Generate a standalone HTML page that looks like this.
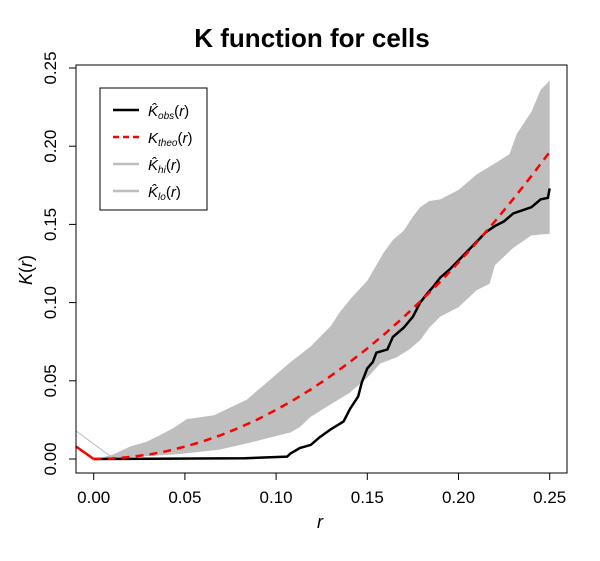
<!DOCTYPE html>
<html><head><meta charset="utf-8"><style>
body{margin:0;background:#fff;}
svg text{font-family:"Liberation Sans",Arial,sans-serif;}
</style></head><body>
<svg width="600" height="556" xmlns="http://www.w3.org/2000/svg">
<text x="312" y="47" text-anchor="middle" font-size="26" font-weight="bold">K function for cells</text>
<g id="plot"></g>
<rect x="76" y="65" width="491" height="408" fill="none" stroke="#000" stroke-width="1"/>
<g id="axes"></g>
<text x="320" y="528" text-anchor="middle" font-size="18" font-style="italic">r</text>
<text transform="translate(32,270) rotate(-90)" text-anchor="middle" font-size="18"><tspan font-style="italic">K</tspan>(<tspan font-style="italic">r</tspan>)</text>
<g>
<rect x="100" y="88" width="107" height="122" fill="#fff" stroke="#000"/>
<line x1="113" y1="110" x2="139" y2="110" stroke="#000" stroke-width="2.5"/>
<text x="148" y="116" font-size="15" font-style="italic">K̂<tspan font-size="10" dy="3">obs</tspan><tspan dy="-3" font-style="normal">(</tspan>r<tspan font-style="normal">)</tspan></text>
<line x1="113" y1="137" x2="139" y2="137" stroke="#f00" stroke-width="2.5" stroke-dasharray="6,4"/>
<text x="148" y="143" font-size="15" font-style="italic">K<tspan font-size="10" dy="3">theo</tspan><tspan dy="-3" font-style="normal">(</tspan>r<tspan font-style="normal">)</tspan></text>
<line x1="113" y1="164" x2="139" y2="164" stroke="#bebebe" stroke-width="2.5"/>
<text x="148" y="170" font-size="15" font-style="italic">K̂<tspan font-size="10" dy="3">hi</tspan><tspan dy="-3" font-style="normal">(</tspan>r<tspan font-style="normal">)</tspan></text>
<line x1="113" y1="191" x2="139" y2="191" stroke="#bebebe" stroke-width="2.5"/>
<text x="148" y="197" font-size="15" font-style="italic">K̂<tspan font-size="10" dy="3">lo</tspan><tspan dy="-3" font-style="normal">(</tspan>r<tspan font-style="normal">)</tspan></text>
</g>
</svg>
<script>
const hiR=[0,0.005,0.011,0.02,0.029,0.036,0.044,0.051,0.066,0.075,0.084,0.091,0.108,0.119,0.13,0.135,0.142,0.15,0.153,0.159,0.164,0.17,0.175,0.179,0.184,0.19,0.20,0.21,0.22,0.228,0.232,0.24,0.245,0.25];
const hiVals=[0,0.001,0.003,0.008,0.011,0.015,0.02,0.0255,0.028,0.033,0.038,0.045,0.062,0.072,0.085,0.094,0.104,0.114,0.12,0.132,0.14,0.146,0.155,0.161,0.165,0.166,0.172,0.182,0.189,0.195,0.208,0.222,0.236,0.242];
const loR=[0,0.018,0.046,0.069,0.084,0.108,0.113,0.119,0.13,0.14,0.15,0.157,0.166,0.173,0.179,0.184,0.19,0.20,0.21,0.217,0.22,0.23,0.24,0.25];
const loVals=[0,0.001,0.003,0.006,0.010,0.017,0.0205,0.027,0.035,0.042,0.052,0.061,0.065,0.07,0.076,0.084,0.091,0.097,0.108,0.112,0.124,0.135,0.143,0.144];
const theoR=[0,0.01,0.02,0.03,0.04,0.05,0.06,0.07,0.08,0.09,0.10,0.11,0.12,0.13,0.14,0.15,0.16,0.17,0.18,0.19,0.20,0.21,0.22,0.23,0.24,0.25];
const theoVals=[0,0.0003,0.0013,0.0028,0.005,0.0079,0.0113,0.0154,0.0201,0.0254,0.0314,0.038,0.0452,0.0531,0.0616,0.0707,0.0804,0.0908,0.1018,0.1134,0.1257,0.1385,0.152,0.1662,0.181,0.1963];
const obsR=[0,0.083,0.106,0.108,0.113,0.119,0.124,0.13,0.137,0.1405,0.145,0.147,0.15,0.153,0.155,0.161,0.164,0.17,0.175,0.179,0.183,0.186,0.19,0.195,0.2,0.205,0.21,0.215,0.22,0.225,0.23,0.235,0.24,0.245,0.249,0.25];
const obsVals=[0,0.0005,0.0015,0.0036,0.007,0.009,0.014,0.019,0.024,0.032,0.04,0.049,0.058,0.062,0.068,0.070,0.078,0.084,0.091,0.1,0.106,0.110,0.116,0.121,0.127,0.133,0.139,0.145,0.149,0.152,0.157,0.159,0.161,0.166,0.167,0.173];
const xTicks=[0,0.05,0.10,0.15,0.20,0.25];
const yTicks=[0,0.05,0.10,0.15,0.20,0.25];
const xs=r=>93.7+r*1824, ys=v=>459-v*1564;
const NS="http://www.w3.org/2000/svg";
const plot=document.getElementById('plot'), axes=document.getElementById('axes');
function mk(tag,attrs,parent){const e=document.createElementNS(NS,tag);for(const k in attrs)e.setAttribute(k,attrs[k]);parent.appendChild(e);return e;}
function linPts(R,V){return R.map((r,i)=>[xs(r),ys(V[i])]);}
let pts=linPts(hiR,hiVals).concat(linPts(loR,loVals).reverse());
const env=mk('polygon',{points:pts.map(p=>p.join(',')).join(' '),fill:'#bebebe'},plot);


const gl=mk('line',{x1:76,y1:ys(0.018),x2:xs(0.01),y2:ys(0.001),stroke:'#bebebe','stroke-width':1},plot);


const ob=mk('path',{d:'M'+linPts(obsR,obsVals).map(p=>p.join(',')).join('L'),fill:'none',stroke:'#000','stroke-width':2.5},plot);


const rl=mk('line',{x1:76,y1:ys(0.008),x2:xs(0),y2:ys(0),stroke:'#f00','stroke-width':2.5},plot);


const th=mk('path',{d:'M'+theoR.map((r,i)=>`${xs(r)},${ys(theoVals[i])}`).join('L'),fill:'none',stroke:'#f00','stroke-width':2.5,'stroke-dasharray':'8,6'},plot);


mk('line',{x1:xs(0),y1:473,x2:xs(0.25),y2:473,stroke:'#000'},axes);
xTicks.forEach(t=>{mk('line',{x1:xs(t),y1:473,x2:xs(t),y2:480,stroke:'#000'},axes);
 const tx=mk('text',{x:xs(t),y:503,'text-anchor':'middle','font-size':17},axes);tx.textContent=t.toFixed(2);
 
 });
mk('line',{x1:76,y1:ys(0),x2:76,y2:ys(0.25),stroke:'#000'},axes);
yTicks.forEach(t=>{mk('line',{x1:69,y1:ys(t),x2:76,y2:ys(t),stroke:'#000'},axes);
 const tx=mk('text',{transform:`translate(56,${ys(t)}) rotate(-90)`,'text-anchor':'middle','font-size':17},axes);tx.textContent=t.toFixed(2);
 
 });
</script>
</body></html>
